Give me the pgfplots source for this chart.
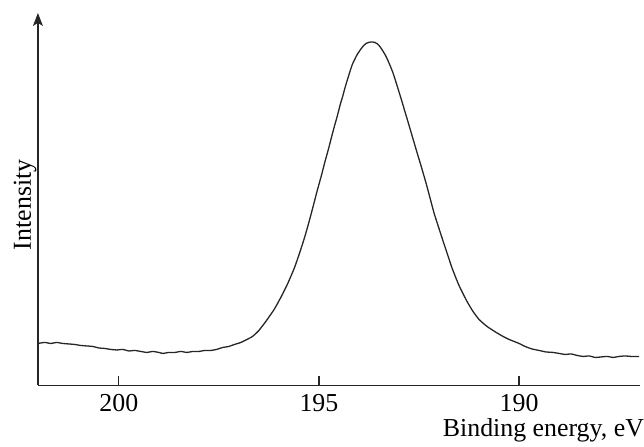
\documentclass[border=0pt]{standalone}
\usepackage{pgfplots}
\pgfplotsset{compat=1.18}
\usepackage{fontspec}
\setmainfont{Liberation Serif}
\usetikzlibrary{arrows.meta}
\pgfplotstableread{
x y
202.02 42
201.85 43
201.7 42
201.55 43
201.4 42
201.25 41.5
201.1 41
200.95 40
200.8 39.5
200.65 39
200.5 37.5
200.35 37
200.2 36
200.05 35.5
199.9 36
199.75 34.5
199.6 35
199.45 34
199.3 33
199.15 34
199.0 33
198.9 32
198.75 33
198.6 33
198.45 34
198.3 33
198.15 34
198.0 34
197.85 35
197.7 35
197.56 36
197.4 38
197.25 39
197.11 41
196.95 43
196.8 46
196.66 49
196.5 55
196.31 65
196.12 76
195.94 89
195.78 102
195.61 118
195.48 133
195.36 148
195.26 162
195.16 177
195.05 194
194.94 210
194.85 224
194.76 237
194.69 248
194.61 260
194.54 270
194.47 281
194.41 289
194.35 298
194.29 306
194.22 315
194.16 322
194.05 331
193.95 337
193.88 340.5
193.82 342.5
193.75 343.6
193.67 344
193.6 343.5
193.54 342
193.48 339.5
193.42 336
193.33 330
193.24 322
193.15 313
193.07 303
193.0 294
192.92 283.5
192.85 274
192.79 266
192.68 251
192.57 236
192.45 220
192.32 202
192.22 187
192.12 172
192.0 157
191.87 141
191.77 129
191.67 117
191.5 100
191.3 84
191.15 74
191.0 66
190.8 59
190.57 53
190.4 49
190.25 46
190.0 42
189.85 39
189.68 36.5
189.5 35
189.33 33.5
189.15 33
189.0 32
188.85 31
188.7 31.5
188.55 30
188.4 29
188.25 29.5
188.1 28
187.95 28.5
187.8 29
187.65 28
187.5 29
187.35 29.5
187.2 29
187.0 29
}\spectrum
\begin{document}
\begin{tikzpicture}
\begin{axis}[
  name=ax,
  scale only axis,
  width=603bp, height=373bp,
  x dir=reverse,
  xmin=186.98, xmax=202.02,
  ymin=0, ymax=373,
  axis x line=bottom,
  axis y line=left,
  axis line style={line width=1.2bp, black!85},
  x axis line style={-},
  y axis line style={-{Stealth[length=13bp,width=10bp,inset=3bp]}},
  xtick={200,195,190},
  ytick=\empty,
  xtick align=inside,
  major tick length=9bp,
  every tick/.style={black!85, line width=1.3bp},
  /pgf/number format/assume math mode=true,
  ticklabel style={font=\fontsize{26}{31}\selectfont},
  xticklabel style={inner sep=0pt, anchor=north, yshift=-9bp},
  xlabel={Binding energy, eV},
  ylabel={Intensity},
  label style={font=\fontsize{26}{31}\selectfont},
  xlabel style={at={(rel axis cs:1.007,-0.1367)}, anchor=base east, inner sep=0pt},
  ylabel style={at={(rel axis cs:-0.0116,0.485)}, anchor=base, rotate=0, inner sep=0pt},
]
\addplot[line width=1.3bp, black!85, smooth, tension=0.3] table[x=x,y=y] {\spectrum};
\end{axis}
\useasboundingbox ([xshift=-38bp,yshift=-61bp]ax.south west) rectangle ([xshift=3bp,yshift=13bp]ax.north east);
\end{tikzpicture}
\end{document}
